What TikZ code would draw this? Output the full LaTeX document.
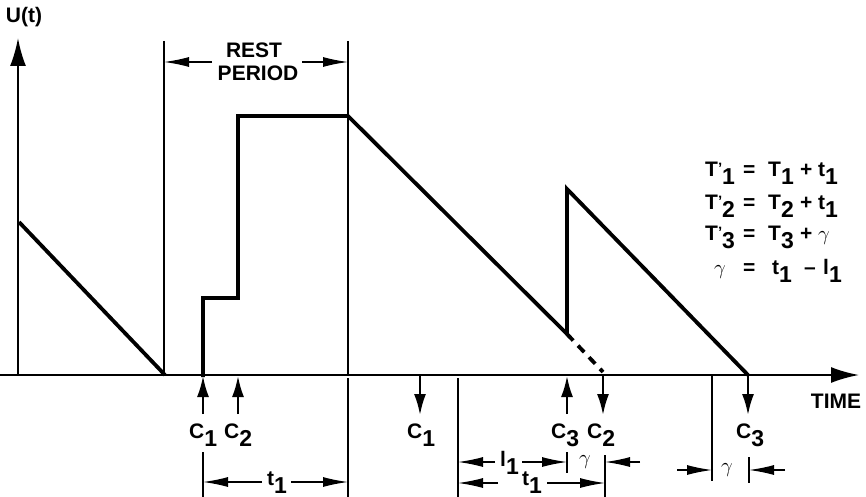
\documentclass[tikz,border=0pt]{standalone}
\usepackage{fontspec}
\setmainfont{Liberation Sans}
\usetikzlibrary{arrows.meta}
\newcommand\lo[1]{\raisebox{-8pt}{\fontsize{23}{26}\selectfont #1}}
\newcommand\pr{\raisebox{3pt}{\fontsize{15}{18}\selectfont ’}}
\begin{document}
\begin{tikzpicture}[x=1pt,y=-1pt,
  txt/.style={font=\fontsize{21}{24}\selectfont\bfseries, inner sep=0pt},
  eq/.style={txt, anchor=base west},
  sig/.style={line width=3.8pt, line join=miter, line cap=butt},
  axis/.style={line width=2.2pt},
  thin/.style={line width=1.2pt},
  bigtip/.style={-{Latex[length=28pt,width=16pt]}},
  tip/.style={-{Latex[length=21pt,width=12pt]}},
  dim/.style={line width=1.3pt, -{Latex[length=25pt,width=10pt]}}]
\useasboundingbox (0,0) rectangle (866,497);
% axes
\coordinate (o) at (18,375);
\coordinate (ytop) at (18,38);
\coordinate (x0) at (0,375);
\coordinate (xend) at (859,375);
\draw[axis,bigtip] (o) -- (ytop);
\draw[axis,bigtip] (x0) -- (xend);
\node[txt] (U) at (24,17) {U(t)};
\node[txt] (time) at (836,401) {TIME};
% thin verticals
\draw[thin] (164,41) -- (164,375);
\draw[thin] (348,41) -- (348,375);
\draw[thin] (348,378) -- (348,497);
\draw[thin] (203,452) -- (203,497);
\draw[thin] (458,378) -- (458,497);
\draw[thin] (567,452) -- (567,473);
\draw[thin] (605,455) -- (605,497);
\draw[thin] (712,375) -- (712,481);
\draw[thin] (749,457) -- (749,483);
% rest period
\node[txt] (rest) at (254,50) {REST};
\node[txt] (period) at (258,73) {PERIOD};
\coordinate (rl) at (212,62);
\coordinate (rr) at (302,62);
\draw[dim] (rl) -- (164,62);
\draw[dim] (rr) -- (348,62);
% signal
\draw[sig] (19,222) -- (165,375);
\draw[sig] (203,377) -- (203,298) -- (238,298) -- (238,116) -- (348,116) -- (567,334) -- (567,189) -- (748,375);
\draw[sig, dash pattern=on 9pt off 7pt] (567,334) -- (603,372);
% event arrows
\draw[axis,tip] (203,414) -- (203,376);
\draw[axis,tip] (238,414) -- (238,376);
\draw[axis,tip] (567,414) -- (567,376);
\draw[axis,tip] (420,376) -- (420,415);
\draw[axis,tip] (603,376) -- (603,415);
\draw[axis,tip] (748,376) -- (748,415);
\node[eq] (c1a) at (189,438) {C\lo{1}};
\node[eq] (c2a) at (224,438) {C\lo{2}};
\node[eq] (c1b) at (407,438) {C\lo{1}};
\node[eq] (c3a) at (551,438) {C\lo{3}};
\node[eq] (c2b) at (587,438) {C\lo{2}};
\node[eq] (c3b) at (736,438) {C\lo{3}};
% t1 bottom left
\node[eq] (t1a) at (267,485) {t\lo{1}};
\draw[dim] (262,482) -- (203,482);
\draw[dim] (291,482) -- (348,482);
% l1, gamma, t1 middle
\node[eq] (l1) at (500,466) {l\lo{1}};
\draw[dim] (495,462) -- (458,462);
\draw[dim] (522,462) -- (567,462);
\node[inner sep=0pt, font=\fontsize{20}{24}\selectfont] (g1) at (585,462) {$\gamma$};
\draw[dim] (640,462) -- (605,462);
\node[eq] (t1b) at (522,485) {t\lo{1}};
\draw[dim] (498,483) -- (458,483);
\draw[dim] (547,483) -- (605,483);
% right gamma
\draw[dim] (677,470) -- (712,470);
\node[inner sep=0pt, font=\fontsize{20}{24}\selectfont] (g2) at (727,470) {$\gamma$};
\draw[dim] (785,470) -- (749,470);
% equations
\node[eq] (e1a) at (705,176) {T\pr\lo{1}};
\node[eq] (e1b) at (743,176) {=};
\node[eq] (e1c) at (768,176) {T\lo{1}};
\node[eq] (e1d) at (800,176) {+};
\node[eq] (e1e) at (818,176) {t\lo{1}};
\node[eq] (e2a) at (705,209) {T\pr\lo{2}};
\node[eq] (e2b) at (743,209) {=};
\node[eq] (e2c) at (768,209) {T\lo{2}};
\node[eq] (e2d) at (800,209) {+};
\node[eq] (e2e) at (818,209) {t\lo{1}};
\node[eq] (e3a) at (705,240) {T\pr\lo{3}};
\node[eq] (e3b) at (743,240) {=};
\node[eq] (e3c) at (768,240) {T\lo{3}};
\node[eq] (e3d) at (800,240) {+};
\node[eq, font=\fontsize{20}{24}\selectfont] (e3e) at (818,240) {$\gamma$};
\node[eq, font=\fontsize{20}{24}\selectfont] (e4a) at (714,274) {$\gamma$};
\node[eq] (e4b) at (743,274) {=};
\node[eq] (e4c) at (772,274) {t\lo{1}};
\node[eq] (e4d) at (804,274) {--};
\node[eq] (e4e) at (823,274) {l\lo{1}};
\end{tikzpicture}
\end{document}
